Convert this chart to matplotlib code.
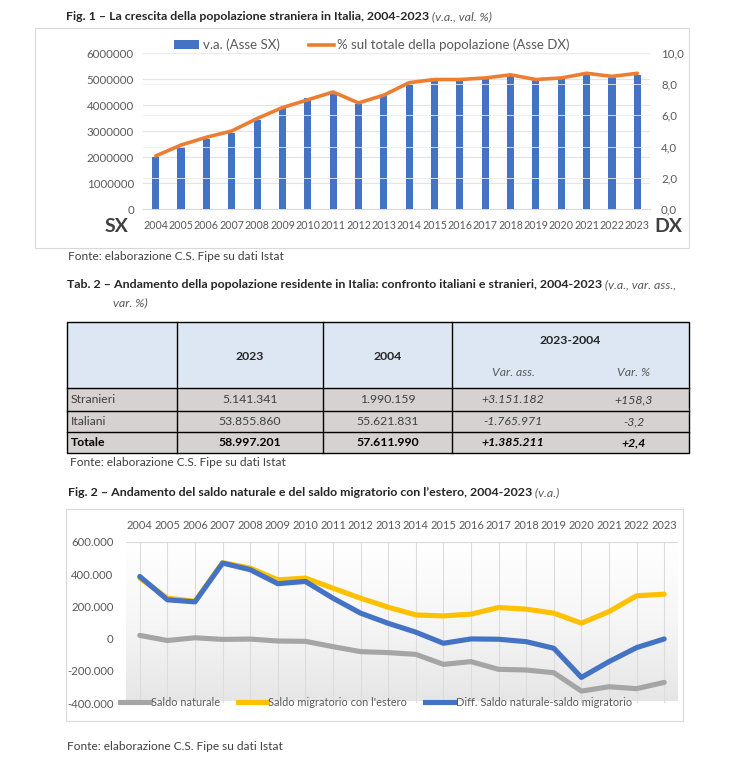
import numpy as np
import matplotlib
matplotlib.use("Agg")
import matplotlib.pyplot as plt
from matplotlib.patches import Rectangle, Patch
from matplotlib.lines import Line2D
from matplotlib.colors import LinearSegmentedColormap

plt.rcParams['font.family'] = ['Lato', 'DejaVu Sans']

W, H = 736, 766

# ---- data ----
anni = [str(a) for a in range(2004, 2024)]

# Fig. 1: stranieri residenti (v.a.) e quota % sul totale
stranieri_va = [1990159, 2400000, 2690000, 2940000, 3430000, 3900000, 4250000,
                4500000, 4030000, 4370000, 4880000, 4990000, 5000000, 5010000,
                5100000, 4990000, 5030000, 5160000, 5040000, 5141341]
quota_pct = [3.4, 4.1, 4.6, 5.0, 5.8, 6.5, 7.0, 7.5, 6.8, 7.3,
             8.1, 8.3, 8.3, 8.4, 8.6, 8.3, 8.4, 8.7, 8.5, 8.7]

# Tab. 2
righe = ['Stranieri', 'Italiani', 'Totale']
val_2023 = ['5.141.341', '53.855.860', '58.997.201']
val_2004 = ['1.990.159', '55.621.831', '57.611.990']
var_ass = ['+3.151.182', '-1.765.971', '+1.385.211']
var_pct = ['+158,3', '-3,2', '+2,4']

# Fig. 2: saldi
saldo_naturale = [20000, -12000, 5000, -5000, -3000, -15000, -17000, -50000,
                  -81000, -87000, -98000, -160000, -143000, -191000, -195000,
                  -212000, -326000, -299000, -311000, -272000]
saldo_migratorio = [376000, 251000, 232000, 472000, 438000, 365000, 376000,
                    313000, 251000, 195000, 147000, 141000, 152000, 193000,
                    183000, 158000, 96000, 168000, 266000, 276000]
differenza = [386000, 241000, 228000, 469000, 428000, 341000, 355000, 251000,
              158000, 95000, 40000, -29000, -2000, -4000, -19000, -60000,
              -241000, -143000, -56000, -2000]

GRIGIO = '#595959'
TESTO = '#262626'
FS_TIT = 8.9
FS_TAB = 8.8


def px(x0, y0, x1, y1):
    # pixel box -> figure fraction rect
    return [x0 / W, 1 - y1 / H, (x1 - x0) / W, (y1 - y0) / H]


fig = plt.figure(figsize=(W / 100, H / 100), dpi=100)

# background canvas in pixel coords
bg = fig.add_axes([0, 0, 1, 1])
bg.set_xlim(0, W)
bg.set_ylim(H, 0)
bg.axis('off')


def titolo(x, y, bold, ital):
    t = bg.text(x, y, bold, fontsize=FS_TIT, fontweight='bold', color=TESTO,
                ha='left', va='center')
    bg.annotate(ital, xy=(1, 0), xycoords=t, ha='left', va='bottom',
                fontsize=FS_TIT, style='italic', color=GRIGIO)


def fonte(x, y):
    bg.text(x, y, 'Fonte: elaborazione C.S. Fipe su dati Istat', fontsize=8.6,
            color='#404040', ha='left', va='center')


# ---------------- Fig. 1 ----------------
titolo(66, 17, 'Fig. 1 \u2013 La crescita della popolazione straniera in Italia, 2004-2023',
       ' (v.a., val. %)')
bg.add_patch(Rectangle((35, 28), 654, 220, fc='white', ec='#d9d9d9', lw=0.8))

x = np.arange(len(anni))
ax1 = fig.add_axes(px(143, 53, 650, 209))
ax1.set_facecolor('none')
ax1.bar(x, stranieri_va, width=0.28, color='#4472c4', zorder=3)
ax1.set_xlim(-0.5, len(anni) - 0.5)
ax1.set_ylim(0, 6000000)
ax1.set_yticks(range(0, 6000001, 1000000))
ax1.set_yticklabels([str(v) for v in range(0, 6000001, 1000000)])
ax1.set_xticks(x)
ax1.set_xticklabels(anni)
ax1.tick_params(axis='y', length=0, labelsize=8.3, labelcolor=GRIGIO, pad=6.5)
ax1.tick_params(axis='x', length=0, labelsize=7.7, labelcolor=GRIGIO, pad=8)
ax1.yaxis.grid(True, color='#e3e3e3', lw=0.8)
ax1.set_axisbelow(True)
for s in ['top', 'left', 'right']:
    ax1.spines[s].set_visible(False)
ax1.spines['bottom'].set_color('#d9d9d9')

ax2 = ax1.twinx()
ax2.plot(x, quota_pct, color='#ed7d31', lw=2.6, solid_capstyle='round',
         solid_joinstyle='round', zorder=4)
ax2.set_ylim(0, 10)
ax2.set_yticks(np.arange(0, 10.1, 2))
ax2.set_yticklabels([f'{v:.1f}'.replace('.', ',') for v in np.arange(0, 10.1, 2)])
ax2.tick_params(axis='y', length=0, labelsize=8.3, labelcolor=GRIGIO, pad=8)
ax2.yaxis.grid(True, color='#ececec', lw=0.6)
for s in ax2.spines.values():
    s.set_visible(False)

bg.text(117, 226, 'SX', fontsize=14, fontweight='bold', color='#404040',
        ha='center', va='center')
bg.text(668, 226, 'DX', fontsize=14, fontweight='bold', color='#404040',
        ha='center', va='center')

h1 = [Patch(facecolor='#4472c4', edgecolor='none'),
      Line2D([], [], color='#ed7d31', lw=2.6)]
fig.legend(h1, ['v.a. (Asse SX)', '% sul totale della popolazione (Asse DX)'],
           loc='center', bbox_to_anchor=(372 / W, 1 - 45 / H), ncol=2,
           frameon=False, fontsize=9.5, labelcolor=GRIGIO, handlelength=1.9,
           handleheight=0.6, handletextpad=0.25, columnspacing=2.2)

fonte(68, 256)

# ---------------- Tab. 2 ----------------
titolo(67, 285, 'Tab. 2 \u2013 Andamento della popolazione residente in Italia: '
       'confronto italiani e stranieri, 2004-2023', ' (v.a., var. ass.,')
bg.text(113, 303, 'var. %)', fontsize=FS_TIT, style='italic', color=GRIGIO,
        ha='left', va='center')

col = [67, 177, 323, 452, 689]
top, hdr, rows = 322, 388, [388, 411, 432, 453]
bg.add_patch(Rectangle((col[0], top), col[-1] - col[0], hdr - top,
                       fc='#dde7f3', ec='none'))
for i in range(3):
    bg.add_patch(Rectangle((col[0], rows[i]), col[-1] - col[0],
                           rows[i + 1] - rows[i], fc='#d6d2d2', ec='none'))
# borders
bg.add_patch(Rectangle((col[0], top), col[-1] - col[0], rows[-1] - top,
                       fc='none', ec='black', lw=1))
for c in col[1:-1]:
    bg.plot([c, c], [top, rows[-1]], color='black', lw=1)
for r in rows[:-1]:
    bg.plot([col[0], col[-1]], [r, r], color='black', lw=1)

hx = [(col[1] + col[2]) / 2, (col[2] + col[3]) / 2]
bg.text(hx[0], 356, '2023', fontsize=FS_TAB, fontweight='bold', color=TESTO,
        ha='center', va='center')
bg.text(hx[1], 356, '2004', fontsize=FS_TAB, fontweight='bold', color=TESTO,
        ha='center', va='center')
bg.text((col[3] + col[4]) / 2, 340, '2023-2004', fontsize=FS_TAB,
        fontweight='bold', color=TESTO, ha='center', va='center')
vx = [513, 634]
bg.text(vx[0], 373, 'Var. ass.', fontsize=FS_TAB, style='italic', color=GRIGIO,
        ha='center', va='center')
bg.text(vx[1], 373, 'Var. %', fontsize=FS_TAB, style='italic', color=GRIGIO,
        ha='center', va='center')

for i, nome in enumerate(righe):
    yc = (rows[i] + rows[i + 1]) / 2
    tot = nome == 'Totale'
    fw = 'bold' if tot else 'normal'
    c = 'black' if tot else '#404040'
    bg.text(71, yc, nome, fontsize=FS_TAB, fontweight=fw, color=c,
            ha='left', va='center')
    bg.text(hx[0], yc, val_2023[i], fontsize=FS_TAB, fontweight=fw, color=c,
            ha='center', va='center')
    bg.text(hx[1], yc, val_2004[i], fontsize=FS_TAB, fontweight=fw, color=c,
            ha='center', va='center')
    bg.text(vx[0], yc, var_ass[i], fontsize=FS_TAB, fontweight=fw,
            style='italic', color=c, ha='center', va='center')
    bg.text(vx[1], yc, var_pct[i], fontsize=FS_TAB, fontweight=fw,
            style='italic', color=c, ha='center', va='center')

fonte(70, 462)

# ---------------- Fig. 2 ----------------
titolo(68, 493, 'Fig. 2 \u2013 Andamento del saldo naturale e del saldo migratorio '
       'con l\u2019estero, 2004-2023', ' (v.a.)')
bg.add_patch(Rectangle((66, 509), 617, 212, fc='white', ec='#d9d9d9', lw=0.8))

ax3 = fig.add_axes(px(126, 542, 678, 703))
ax3.set_facecolor('none')
grad = LinearSegmentedColormap.from_list('g', ['#ffffff', '#f6f6f6', '#e6e6e6'])
ax3.imshow(np.linspace(0, 1, 200).reshape(-1, 1), cmap=grad, aspect='auto',
           extent=[-0.5, len(anni) - 0.5, -385000, 600000], zorder=0)
for serie, colore, z in [(saldo_naturale, '#a5a5a5', 3),
                         (saldo_migratorio, '#ffc000', 4),
                         (differenza, '#4472c4', 5)]:
    ax3.plot(x, serie, color=colore, lw=3.7, solid_joinstyle='round',
             solid_capstyle='round', zorder=z)
ax3.set_xlim(-0.5, len(anni) - 0.5)
ax3.set_ylim(-400000, 600000)
yt = list(range(-400000, 600001, 200000))
ax3.set_yticks(yt)
ax3.set_yticklabels([f'{v:,}'.replace(',', '.') for v in yt])
ax3.set_xticks(x)
ax3.set_xticklabels(anni)
ax3.xaxis.tick_top()
ax3.tick_params(axis='x', length=0, labelsize=8.0, labelcolor=GRIGIO, pad=8)
ax3.tick_params(axis='y', length=0, labelsize=8.2, labelcolor=GRIGIO, pad=9)
ax3.xaxis.grid(True, color='#dcdcdc', lw=0.8, zorder=1)
ax3.axhline(600000, color='#d9d9d9', lw=0.8, zorder=1)
for s in ax3.spines.values():
    s.set_visible(False)

h2 = [Line2D([], [], color='#a5a5a5', lw=3.7),
      Line2D([], [], color='#ffc000', lw=3.7),
      Line2D([], [], color='#4472c4', lw=3.7)]
fig.legend(h2, ['Saldo naturale', "Saldo migratorio con l'estero",
                'Diff. Saldo naturale-saldo migratorio'],
           loc='center', bbox_to_anchor=(376 / W, 1 - 702 / H), ncol=3,
           frameon=False, fontsize=7.9, labelcolor=GRIGIO, handlelength=2.7,
           handletextpad=0.1, columnspacing=1.6)

fonte(67, 747)

fig.savefig('out.png', dpi=100)
